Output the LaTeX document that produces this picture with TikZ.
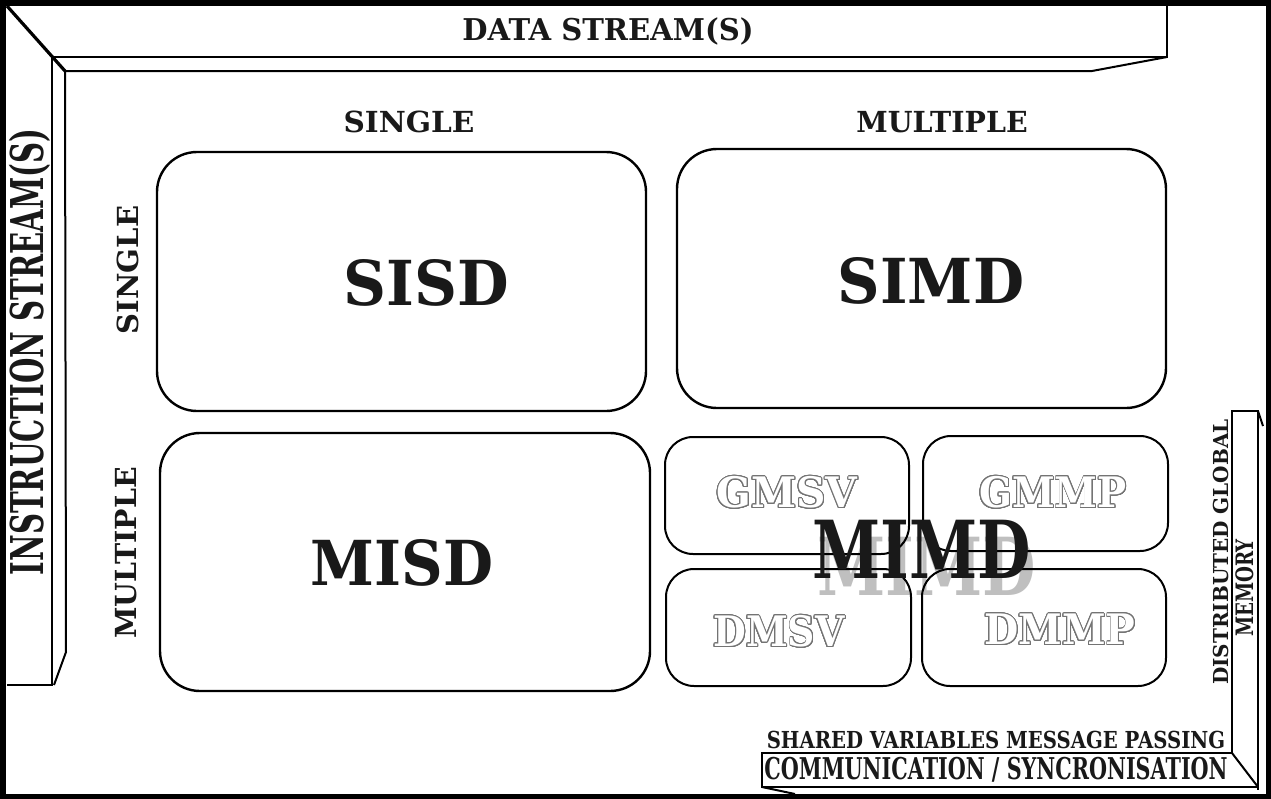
\documentclass[tikz,border=0pt]{standalone}
\usepackage{fontspec}
\usepackage{graphicx}
\usepackage{contour}
\newfontfamily\labfont{DejaVu Serif}
\usetikzlibrary{positioning}

\newcommand{\squeeze}[2]{\scalebox{#1}[1]{#2}}
\newcommand{\hollowtext}[1]{\contour{black!55}{\textcolor{white}{#1}}}
\contourlength{0.5pt}
\contournumber{24}

\begin{document}
\begin{tikzpicture}[x=0.5pt, y=-0.5pt,
    bar/.style={line width=1pt, line join=miter},
    cell/.style={rectangle, draw, rounded corners=20pt, line width=1.2pt, inner sep=0pt},
    subcell/.style={cell, rounded corners=14pt, line width=1pt},
    head/.style={inner sep=0pt, text=black!90, font=\labfont\bfseries\fontsize{14.5}{14.5}\selectfont},
    big/.style={inner sep=0pt, text=black!90, font=\labfont\bfseries\fontsize{31}{31}\selectfont},
    huge/.style={inner sep=0pt, text=black!90, font=\labfont\bfseries\fontsize{40}{40}\selectfont},
    hollow/.style={inner sep=0pt, font=\labfont\bfseries\fontsize{21}{21}\selectfont},
    note/.style={inner sep=0pt, text=black!90}
]
\useasboundingbox (0,0) rectangle (1271,799);
\draw[line width=3.5pt] (2,2) rectangle (1269,797);

% top and left bars
\draw[bar, line width=1.6pt] (7,6) -- (65,71);
\draw[bar] (52,57) -- (1167,57) -- (1167,6);
\draw[bar] (65,71) -- (1092,71) -- (1167,57);
\draw[bar] (52,57) -- (52,685) -- (7,685);
\draw[bar] (65,71) -- (66,652) -- (54,685);

% right and bottom bars
\draw[bar] (1232,753) -- (1232,411) -- (1258,411) -- (1258,790);
\draw[bar] (1258,411) -- (1263,426);
\draw[bar] (1232,753) -- (762,753) -- (762,787) -- (1258,787);
\draw[bar] (1232,753) -- (1258,787);
\draw[bar] (762,787) -- (795,794);

\node[note, font=\labfont\bfseries\fontsize{15}{15}\selectfont] (data) at (608,31) {\squeeze{0.97}{DATA STREAM(S)}};
\node[note, rotate=90, font=\labfont\bfseries\fontsize{22.6}{22.6}\selectfont] (instr) at (30,352) {\squeeze{0.645}{INSTRUCTION STREAM(S)}};

\node[head] (dsingle) at (409,122) {\squeeze{1.02}{SINGLE}};
\node[head] (dmultiple) at (942,122) {\squeeze{0.98}{MULTIPLE}};
\node[head, rotate=90] (isingle) at (128,270) {\squeeze{1.0}{SINGLE}};
\node[head, rotate=90] (imultiple) at (126,553) {\squeeze{0.98}{MULTIPLE}};

% the four classes
\node[cell, minimum width=244.5pt, minimum height=129.5pt] (sisd) at (401.5,281.5) {};
\node[cell, minimum width=244.5pt, minimum height=129.5pt] (simd) at (921.5,278.5) {};
\node[cell, minimum width=245pt, minimum height=129pt] (misd) at (405,562) {};
\node[subcell, minimum width=122pt, minimum height=58.5pt] (gmsv) at (787,495.5) {};
\node[subcell, minimum width=122.5pt, minimum height=57.5pt] (gmmp) at (1045.5,493.5) {};
\node[subcell, minimum width=122.5pt, minimum height=58.5pt] (dmsv) at (788.5,627.5) {};
\node[subcell, minimum width=122pt, minimum height=58.5pt] (dmmp) at (1044,627.5) {};

\node[big] (sisdtxt) at (426,283) {\squeeze{0.96}{SISD}};
\node[big] (simdtxt) at (931,281) {\squeeze{0.95}{SIMD}};
\node[big] (misdtxt) at (402,563) {\squeeze{0.93}{MISD}};

\node[hollow] (gmsvtxt) at (787,493) {\squeeze{0.97}{\hollowtext{GMSV}}};
\node[hollow] (gmmptxt) at (1053,493) {\squeeze{0.92}{\hollowtext{GMMP}}};
\node[hollow] (dmsvtxt) at (779,632) {\squeeze{0.9}{\hollowtext{DMSV}}};
\node[hollow] (dmmptxt) at (1060,630) {\squeeze{0.94}{\hollowtext{DMMP}}};

\node[huge, text=black, opacity=0.25] (mimdshade) at (927,566) {\squeeze{0.77}{MIMD}};
\node[huge] (mimd) at (922,549) {\squeeze{0.77}{MIMD}};

\node[note, rotate=90, font=\labfont\bfseries\fontsize{10.3}{10.3}\selectfont] (distrib) at (1221,552) {\squeeze{0.97}{DISTRIBUTED GLOBAL}};
\node[note, rotate=90, font=\labfont\bfseries\fontsize{12}{12}\selectfont] (memory) at (1245,588) {\squeeze{0.76}{MEMORY}};

\node[note, font=\labfont\bfseries\fontsize{11.7}{11.7}\selectfont] (shared) at (996,740) {\squeeze{0.84}{SHARED VARIABLES MESSAGE PASSING}};
\node[note, font=\labfont\bfseries\fontsize{15}{15}\selectfont] (comm) at (996,770) {\squeeze{0.69}{COMMUNICATION / SYNCRONISATION}};
\end{tikzpicture}
\end{document}
